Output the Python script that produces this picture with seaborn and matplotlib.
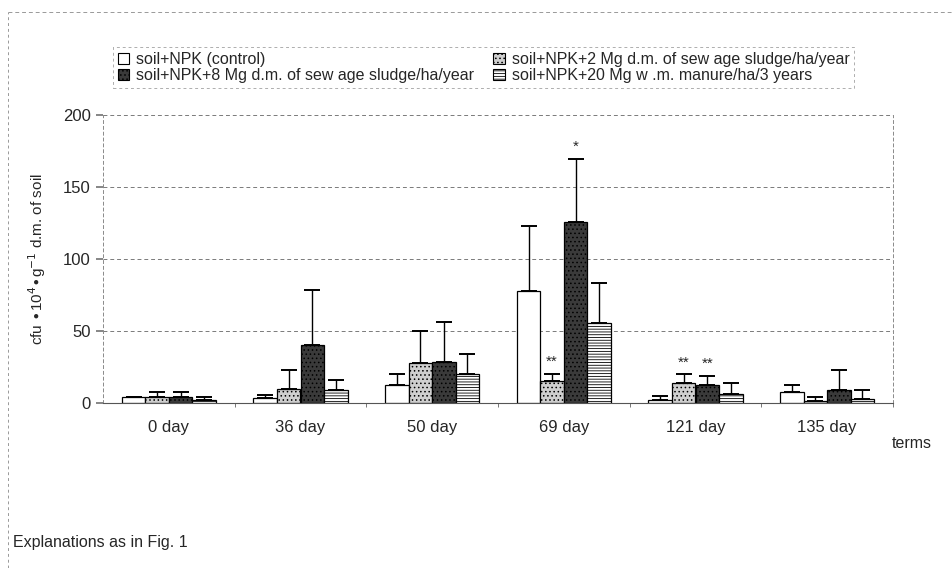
import matplotlib
matplotlib.use("Agg")
import matplotlib.pyplot as plt
import numpy as np
import pandas as pd
import seaborn as sns
from matplotlib.lines import Line2D
from matplotlib.patches import Patch

terms = ["0 day", "36 day", "50 day", "69 day", "121 day", "135 day"]
treatments = [
    "soil+NPK (control)",
    "soil+NPK+2 Mg d.m. of sew age sludge/ha/year",
    "soil+NPK+8 Mg d.m. of sew age sludge/ha/year",
    "soil+NPK+20 Mg w .m. manure/ha/3 years",
]
control = [4.2, 3.7, 12.7, 77.5, 2.3, 7.4]
sludge2 = [4.0, 10.0, 27.5, 15.0, 13.8, 1.6]
sludge8 = [4.0, 40.5, 28.5, 126.0, 12.7, 9.2]
manure = [2.3, 8.8, 20.0, 55.5, 6.5, 2.8]
control_sd = [0.3, 1.9, 7.3, 45.5, 2.3, 5.3]
sludge2_sd = [3.6, 12.7, 22.5, 5.3, 6.2, 2.4]
sludge8_sd = [3.6, 38.2, 27.5, 43.6, 6.3, 13.8]
manure_sd = [1.9, 7.4, 13.8, 27.5, 7.2, 6.4]
# significance marks (treatment index, term index, text)
marks = [(1, 3, "**"), (2, 3, "*"), (1, 4, "**"), (2, 4, "**")]

values = [control, sludge2, sludge8, manure]
sds = [control_sd, sludge2_sd, sludge8_sd, manure_sd]
rows = []
for t, vals, errs in zip(treatments, values, sds):
    for term, v, e in zip(terms, vals, errs):
        rows.append({"term": term, "treatment": t, "value": v, "sd": e})
df = pd.DataFrame(rows)

sns.set_theme(style="white")
plt.rcParams["font.family"] = ["Liberation Sans", "DejaVu Sans"]
plt.rcParams["hatch.linewidth"] = 0.6

faces = ["white", "#cfcfcf", "#3a3a3a", "white"]
hatches = [None, "....", "....", "------"]

fig = plt.figure(figsize=(9.52, 5.68), dpi=100)
ax = fig.add_axes([103 / 952, 1 - 403 / 568, 790 / 952, 288 / 568])

sns.barplot(data=df, x="term", y="value", hue="treatment", order=terms,
            hue_order=treatments, ax=ax, errorbar=None, width=0.715,
            palette=faces, edgecolor="black", linewidth=0.9, legend=False)

bar_conts = list(ax.containers)
for i, cont in enumerate(bar_conts):
    for j, bar in enumerate(cont):
        bar.set_facecolor(faces[i])
        if hatches[i]:
            bar.set_hatch(hatches[i])
        cx = bar.get_x() + bar.get_width() / 2
        top = bar.get_height()
        ax.errorbar(cx, top, yerr=[[0], [sds[i][j]]], fmt="none",
                    ecolor="black", elinewidth=1.0, capsize=5.5, capthick=1.4)
    for ti, tj, txt in marks:
        if ti == i:
            bar = cont[tj]
            cx = bar.get_x() + bar.get_width() / 2
            ax.text(cx, values[ti][tj] + sds[ti][tj] + 8, txt, ha="center",
                    va="center", fontsize=11)

ax.set_ylim(0, 200)
ax.set_yticks([0, 50, 100, 150, 200])
ax.set_xlim(-0.5, len(terms) - 0.5)
ax.set_xticks(np.arange(len(terms)) + 0.5, minor=True)
ax.yaxis.grid(True, linestyle=(0, (4, 3)), color="#7a7a7a", linewidth=0.7)
ax.set_axisbelow(True)
for s in ["left", "right", "top"]:
    ax.spines[s].set_linestyle((0, (3, 3)))
    ax.spines[s].set_color("#8a8a8a")
    ax.spines[s].set_linewidth(0.7)
ax.spines["top"].set_visible(False)
ax.spines["bottom"].set_color("#555555")
ax.spines["bottom"].set_linewidth(0.8)
ax.tick_params(axis="y", labelsize=12, length=5, left=True, color="#777777",
               pad=4)
ax.tick_params(axis="x", which="major", labelsize=12, length=0, pad=12)
ax.tick_params(axis="x", which="minor", bottom=True, length=3, width=0.7,
               color="#777777")
ax.set_xlabel("")
ax.set_ylabel(r"cfu $\bullet$10$^{4}$$\bullet$g$^{-1}$ d.m. of soil", fontsize=11)
ax.yaxis.set_label_coords(-0.07, 0.5)

# row-wise order like the original legend (matplotlib fills by column)
order = [0, 2, 1, 3]
handles = [Patch(facecolor=faces[k], edgecolor="black", hatch=hatches[k],
                 linewidth=0.8) for k in order]
labels = [treatments[k] for k in order]
leg = fig.legend(handles, labels, loc="upper left",
                 bbox_to_anchor=(113 / 952, 1 - 47 / 568), ncol=2,
                 fontsize=11.5, frameon=True, fancybox=False, handlelength=0.7,
                 handleheight=0.7, handletextpad=0.45, columnspacing=1.2,
                 labelspacing=0.06, borderpad=0.3, borderaxespad=0)
leg.get_frame().set_edgecolor("#999999")
leg.get_frame().set_linestyle((0, (3, 3)))
leg.get_frame().set_linewidth(0.7)

fig.text(892 / 952, 1 - 443 / 568, "terms", ha="left", va="center", fontsize=11.5)
fig.text(13 / 952, 1 - 543 / 568, "Explanations as in Fig. 1", ha="left",
         va="center", fontsize=11.5)

fig.add_artist(Line2D([8 / 952, 1], [1 - 12 / 568, 1 - 12 / 568],
                      color="#999999", linestyle=(0, (4, 3)), linewidth=0.7))
fig.add_artist(Line2D([8 / 952, 8 / 952], [0, 1 - 12 / 568],
                      color="#999999", linestyle=(0, (3, 3)), linewidth=0.7))

fig.savefig("out.png", dpi=100)
